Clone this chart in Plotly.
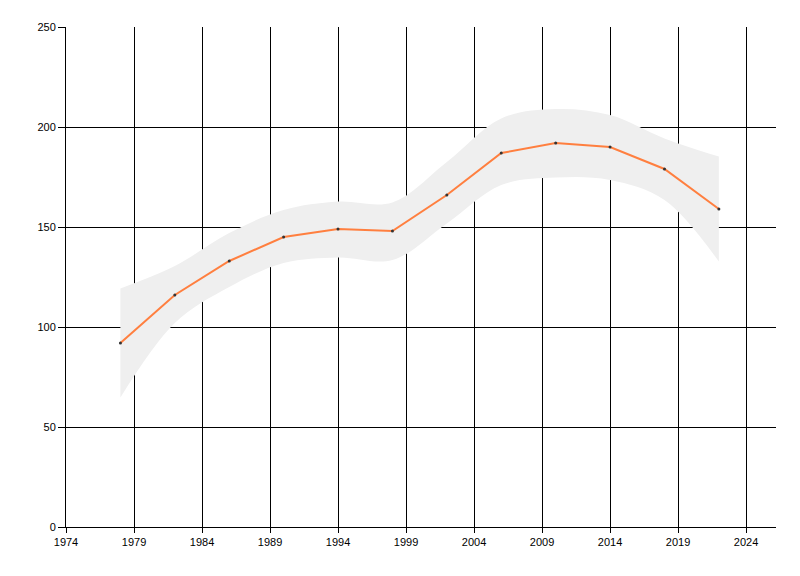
import plotly.graph_objects as go

years = [1978, 1982, 1986, 1990, 1994, 1998, 2002, 2006, 2010, 2014, 2018, 2022]
values = [92, 116, 133, 145, 149, 148, 166, 187, 192, 190, 179, 159]
upper = [119.3, 130.5, 147, 158.5, 162.7, 162.3, 182.5, 204.3, 209, 206, 194.3, 185.2]
lower = [64.8, 102, 120, 132, 134.8, 133.5, 151.8, 171, 174.7, 173.5, 163.5, 132.7]

fig = go.Figure()
fig.add_trace(go.Scatter(x=years, y=upper, mode="lines",
                         line=dict(width=0, shape="spline", color="#efefef"),
                         hoverinfo="skip", showlegend=False))
fig.add_trace(go.Scatter(x=years, y=lower, mode="lines", fill="tonexty",
                         fillcolor="#efefef",
                         line=dict(width=0, shape="spline", color="#efefef"),
                         hoverinfo="skip", showlegend=False))
fig.add_trace(go.Scatter(x=years, y=values, mode="lines+markers",
                         line=dict(color="#ff7f3f", width=2),
                         marker=dict(color="#333333", size=3),
                         showlegend=False))

fig.update_layout(
    width=800, height=576,
    margin=dict(l=58, r=32, t=19, b=57),
    paper_bgcolor="white", plot_bgcolor="white",
    font=dict(family="Liberation Sans, Arial, sans-serif", size=11, color="black"),
    xaxis=dict(range=[1974, 2026.2], tick0=1974, dtick=5, showgrid=True,
               gridcolor="black", gridwidth=1, showline=True, linecolor="black",
               linewidth=1, ticks="outside", ticklen=5, tickcolor="black",
               zeroline=False),
    yaxis=dict(range=[0, 250], dtick=50, showgrid=True, gridcolor="black",
               gridwidth=1, showline=True, linecolor="black", linewidth=1,
               ticks="outside", ticklen=7, tickcolor="black", zeroline=False),
)
fig.write_html("out.html")
